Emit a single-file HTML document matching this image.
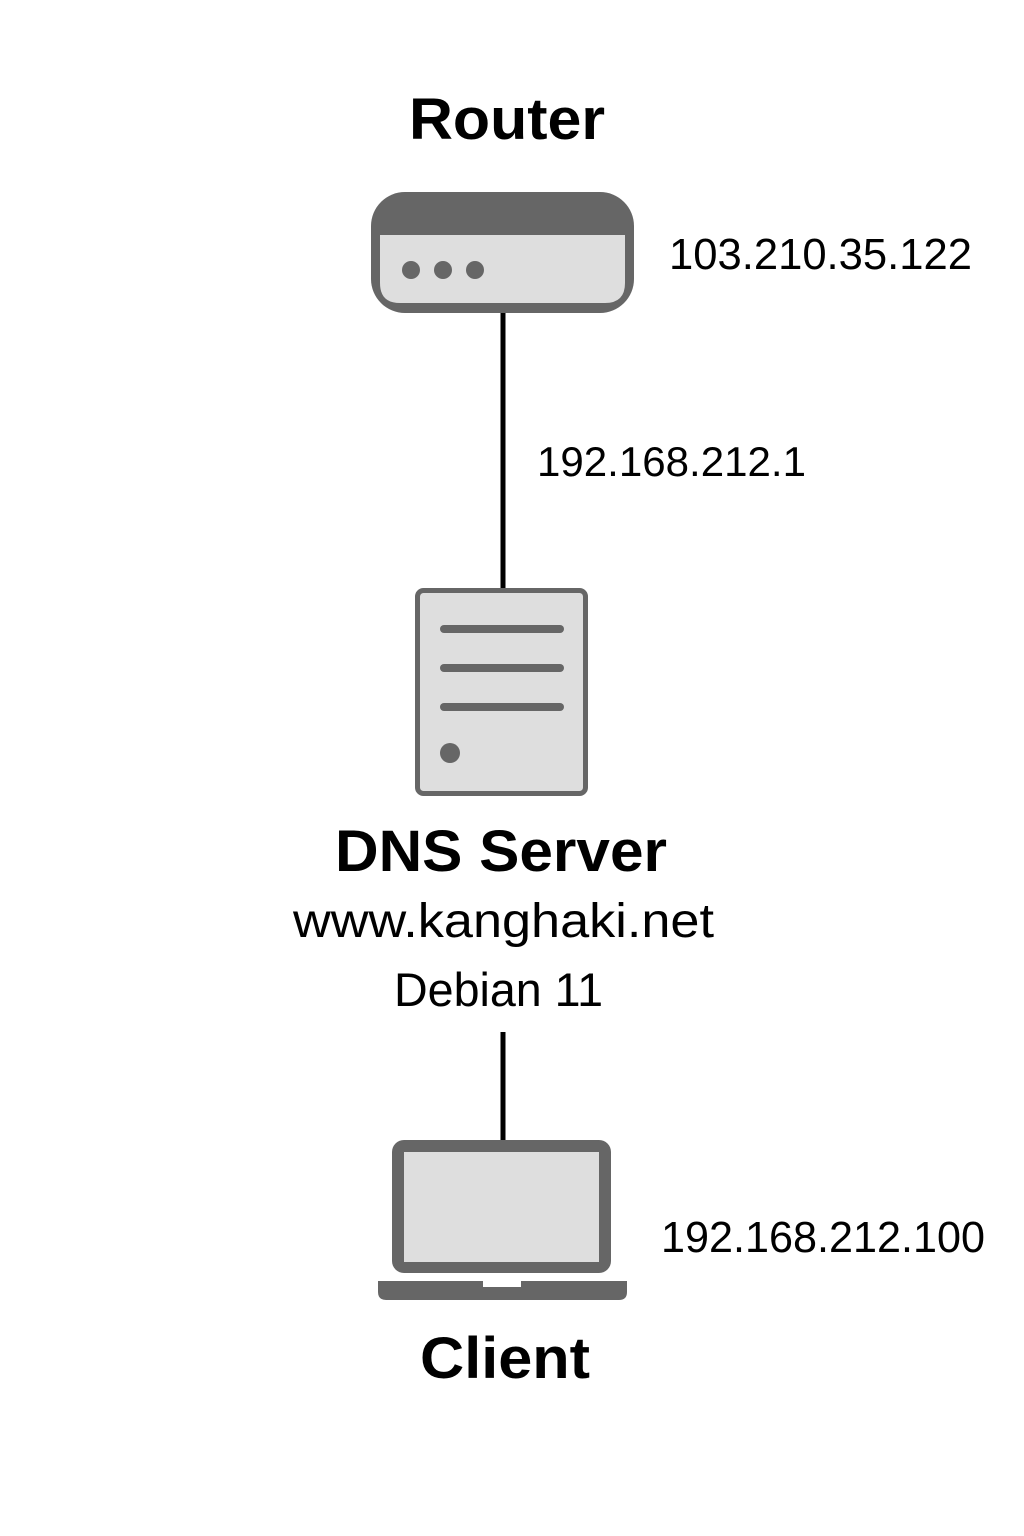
<!DOCTYPE html>
<html><head><meta charset="utf-8"><style>html,body{margin:0;padding:0;background:#fff}svg{display:block}</style></head>
<body>
<svg width="1024" height="1536" viewBox="0 0 1024 1536" xmlns="http://www.w3.org/2000/svg" font-family="Liberation Sans, sans-serif">
<rect width="1024" height="1536" fill="#fff"/>
<line x1="503" y1="310" x2="503" y2="590" stroke="#000" stroke-width="5"/>
<line x1="503" y1="1032" x2="503" y2="1142" stroke="#000" stroke-width="5"/>
<rect x="371" y="192" width="263" height="121" rx="34" fill="#666"/>
<path d="M380 235 H625 V283 Q625 303 605 303 H400 Q380 303 380 283 Z" fill="#dedede"/>
<circle cx="411" cy="270" r="9" fill="#666"/>
<circle cx="443" cy="270" r="9" fill="#666"/>
<circle cx="475" cy="270" r="9" fill="#666"/>
<rect x="417.5" y="590.5" width="168" height="203" rx="6" fill="#dedede" stroke="#666" stroke-width="5"/>
<g stroke="#666" stroke-width="8" stroke-linecap="round">
<line x1="444" y1="629" x2="560" y2="629"/>
<line x1="444" y1="668" x2="560" y2="668"/>
<line x1="444" y1="707" x2="560" y2="707"/>
</g>
<circle cx="450" cy="753" r="10" fill="#666"/>
<rect x="392" y="1140" width="219" height="133" rx="12" fill="#666"/>
<rect x="404" y="1152" width="195" height="110" fill="#dedede"/>
<path d="M378 1281 H483 V1287 H521 V1281 H627 V1292 Q627 1300 619 1300 H386 Q378 1300 378 1292 Z" fill="#666"/>
<text x="507" y="139" font-size="58" font-weight="bold" text-anchor="middle" textLength="196" lengthAdjust="spacingAndGlyphs">Router</text>
<text x="669" y="269" font-size="44" textLength="303" lengthAdjust="spacingAndGlyphs">103.210.35.122</text>
<text x="537" y="476" font-size="42" textLength="269" lengthAdjust="spacingAndGlyphs">192.168.212.1</text>
<text x="335" y="871" font-size="58" font-weight="bold" textLength="332" lengthAdjust="spacingAndGlyphs">DNS Server</text>
<text x="293" y="937" font-size="48" textLength="421" lengthAdjust="spacingAndGlyphs">www.kanghaki.net</text>
<text x="394" y="1006" font-size="47" textLength="209" lengthAdjust="spacingAndGlyphs">Debian 11</text>
<text x="661" y="1252" font-size="44" textLength="324" lengthAdjust="spacingAndGlyphs">192.168.212.100</text>
<text x="505" y="1378" font-size="58" font-weight="bold" text-anchor="middle" textLength="170" lengthAdjust="spacingAndGlyphs">Client</text>
</svg>
</body></html>
